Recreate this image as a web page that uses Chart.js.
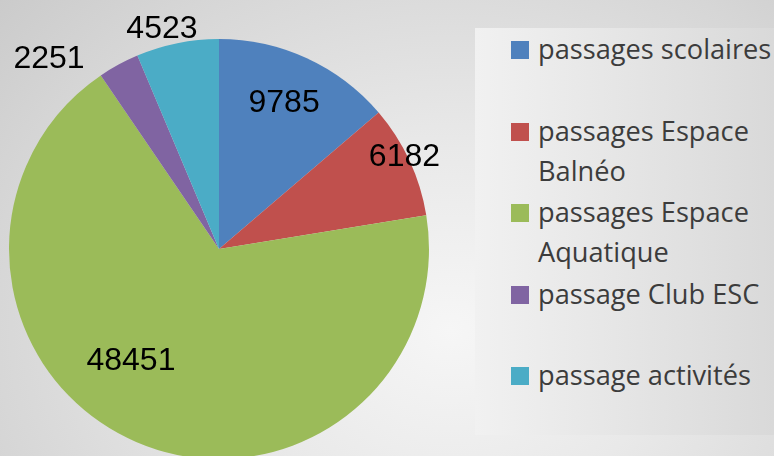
<!DOCTYPE html>
<html>
<head>
<meta charset="utf-8">
<script src="https://cdn.jsdelivr.net/npm/chart.js@4/dist/chart.umd.min.js"></script>
<style>
  html, body { margin:0; padding:0; }
  body {
    width:774px; height:456px; overflow:hidden; position:relative;
    background: radial-gradient(ellipse 620px 520px at 450px 330px, #f6f6f6 0%, #e9e9e9 35%, #d6d6d6 75%, #c9c9c9 100%);
  }
  #wrap { position:absolute; left:0; top:0; width:470px; height:498px; }
  #panel {
    position:absolute; left:475px; top:28px; width:299px; height:407px;
    background: linear-gradient(90deg, #f1f1f1 0%, #e4e4e4 55%, #d9d9d9 100%);
  }
  #legend { list-style:none; margin:0; padding:0; position:absolute; left:511px; top:29px; }
  #legend li {
    position:relative; height:81.5px; padding-left:27px;
    font-family:"Open Sans", sans-serif; font-size:27.2px; line-height:40px; color:#3c3c3c;
    white-space:nowrap;
  }
  #legend li span.sw { position:absolute; left:0; top:12px; width:18px; height:18px; }
</style>
</head>
<body>
<div id="panel"></div>
<ul id="legend"></ul>
<div id="wrap"><canvas id="pie"></canvas></div>
<script>
// data
const labels = ['passages scolaires', 'passages Espace Balnéo', 'passages Espace Aquatique', 'passage Club ESC', 'passage activités'];
const legendLines = [['passages scolaires'], ['passages Espace', 'Balnéo'], ['passages Espace', 'Aquatique'], ['passage Club ESC'], ['passage activités']];
const values = [9785, 6182, 48451, 2251, 4523];
const colors = ['#4F81BD', '#C0504D', '#9BBB59', '#8064A2', '#4BACC6'];

// where each value label sits: fraction of radius + angle shift (deg) from slice middle
const labelPlace = [
  { r:0.77, da:-1 },
  { r:0.99, da:-2 },
  { r:0.67, da:15.5 },
  { r:1.22, da:-13 },
  { r:1.09, da:-3 }
];

// html legend
const ul = document.getElementById('legend');
ul.innerHTML = legendLines.map((ln,i)=>`
  <li><span class="sw" style="background:${colors[i]}"></span>${ln.join('<br>')}</li>
`).join('');

// value labels drawn from the arcs
const valueLabels = {
  id:'valueLabels',
  afterDatasetsDraw(chart){
    const ctx = chart.ctx;
    const meta = chart.getDatasetMeta(0);
    ctx.save();
    ctx.font = '32px "Liberation Sans", Arial, sans-serif';
    ctx.fillStyle = '#000';
    ctx.textAlign = 'center';
    ctx.textBaseline = 'middle';
    meta.data.forEach((arc,i)=>{
      const p = arc.getProps(['x','y','startAngle','endAngle','outerRadius'], true);
      const a = (p.startAngle + p.endAngle)/2 + labelPlace[i].da*Math.PI/180;
      const r = p.outerRadius * labelPlace[i].r;
      ctx.fillText(String(values[i]), p.x + Math.cos(a)*r, p.y + Math.sin(a)*r + 2);
    });
    ctx.restore();
  }
};

new Chart(document.getElementById('pie').getContext('2d'), {
  type:'pie',
  data:{ labels: labels, datasets:[{ data: values, backgroundColor: colors, borderWidth:0 }] },
  options:{
    responsive:true, maintainAspectRatio:false, animation:false,
    layout:{ padding:{ top:39, bottom:39, left:9, right:41 } },
    plugins:{ legend:{ display:false }, tooltip:{ enabled:false } }
  },
  plugins:[valueLabels]
});
</script>
</body>
</html>
